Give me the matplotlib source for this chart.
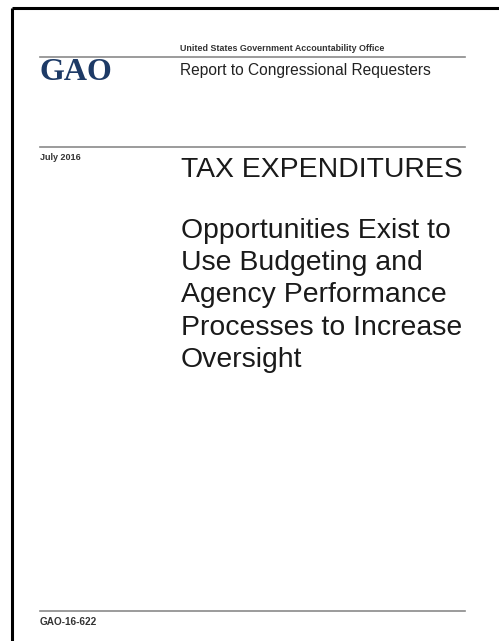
import matplotlib
matplotlib.use('Agg')
import matplotlib.pyplot as plt

# texts on the cover
agency = 'United States Government Accountability Office'
report_type = 'Report to Congressional Requesters'
logo = 'GAO'
date_label = 'July 2016'
title = 'TAX EXPENDITURES'
subtitle_lines = ['Opportunities Exist to', 'Use Budgeting and', 'Agency Performance',
                  'Processes to Increase', 'Oversight']
report_no = 'GAO-16-622'

W, H = 499, 641
fig = plt.figure(figsize=(W / 100, H / 100), dpi=100)
ax = fig.add_axes([0, 0, 1, 1])
ax.set_xlim(0, W)
ax.set_ylim(H, 0)
ax.axis('off')

sans = 'Liberation Sans'

# page border (top and left only)
ax.plot([12, W], [8, 8], color='black', lw=2.2, solid_capstyle='butt')
ax.plot([12, 12], [8, H], color='black', lw=2.2, solid_capstyle='butt')

# gray rules
for y in [57, 147, 611]:
    ax.plot([40, 465], [y, y], color='#8a8a8a', lw=1.2)

# header
ax.text(180, 51, agency, fontsize=6.4, fontweight='bold', family=sans,
        color='#333333', va='baseline')
ax.text(180, 75, report_type, fontsize=11.2, family=sans, color='#222222', va='baseline')
ax.text(40, 80, logo, fontsize=23, fontweight='bold', family='Liberation Serif',
        color='#1d3a66', va='baseline')

# date and title
ax.text(40, 160, date_label, fontsize=6.5, fontweight='bold', family=sans,
        color='#333333', va='baseline')
ax.text(181, 177, title, fontsize=20.4, family=sans, color='#1a1a1a', va='baseline')

y0, dy = 238, 32.2
for i, line in enumerate(subtitle_lines):
    ax.text(181, y0 + i * dy, line, fontsize=20.4, family=sans, color='#1a1a1a',
            va='baseline')

# report number
ax.text(40, 625, report_no, fontsize=7.2, fontweight='bold', family=sans,
        color='#333333', va='baseline')

fig.savefig('out.png', dpi=100, facecolor='white')
